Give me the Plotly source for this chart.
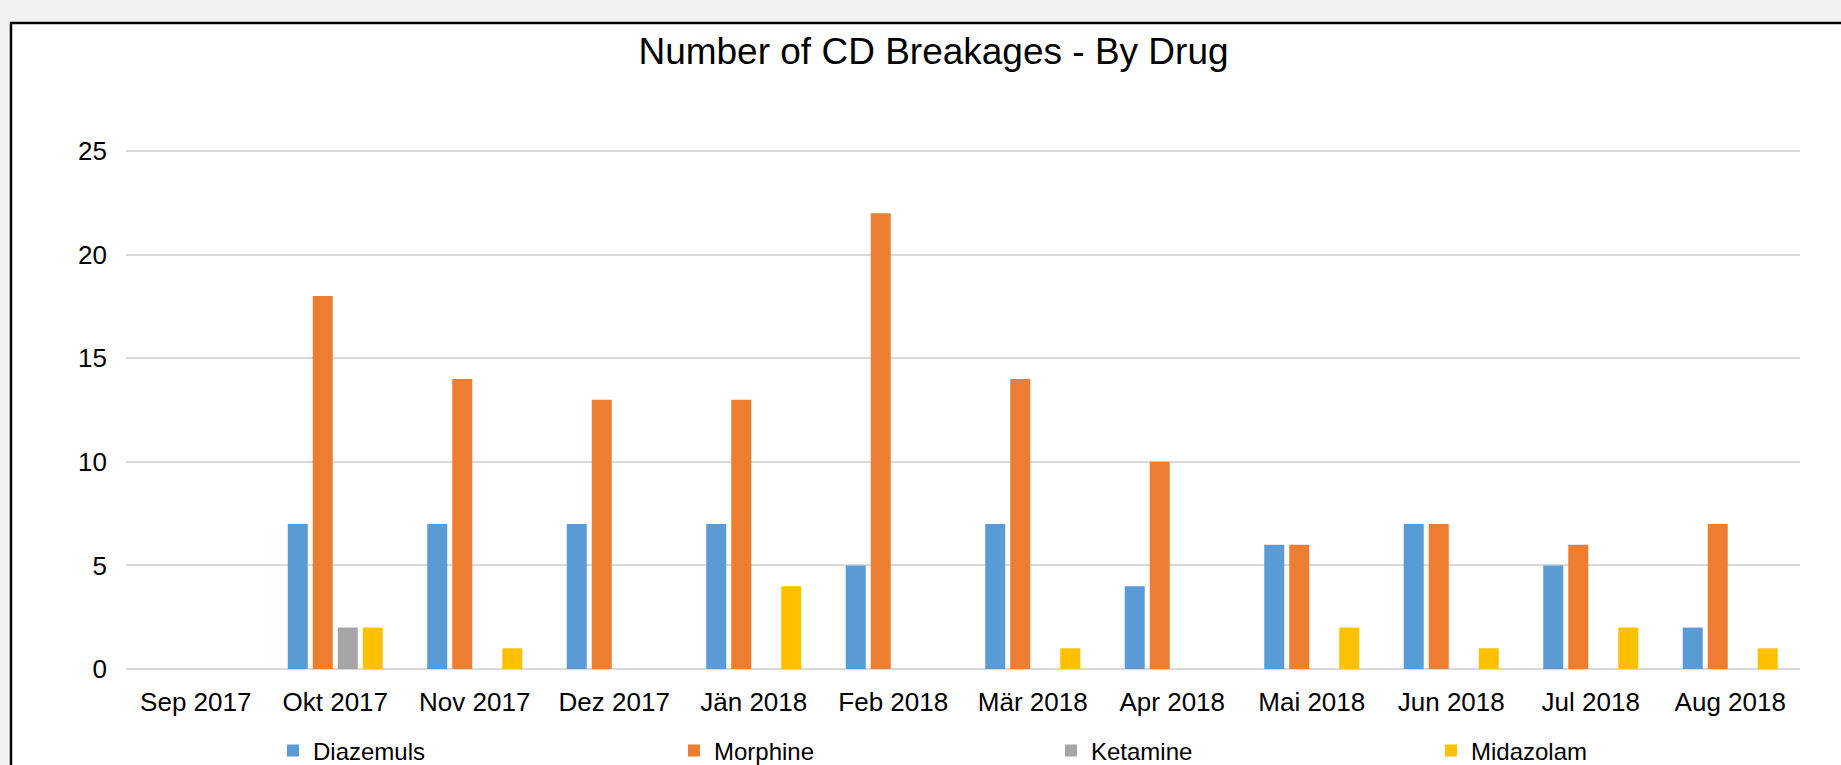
import plotly.graph_objects as go

months = ["Sep 2017", "Okt 2017", "Nov 2017", "Dez 2017", "Jän 2018", "Feb 2018",
          "Mär 2018", "Apr 2018", "Mai 2018", "Jun 2018", "Jul 2018", "Aug 2018"]
diazemuls = [0, 7, 7, 7, 7, 5, 7, 4, 6, 7, 5, 2]
morphine = [0, 18, 14, 13, 13, 22, 14, 10, 6, 7, 6, 7]
ketamine = [0, 2, 0, 0, 0, 0, 0, 0, 0, 0, 0, 0]
midazolam = [0, 2, 1, 0, 4, 0, 1, 0, 2, 1, 2, 1]

series = [
    ("Diazemuls", diazemuls, "#5B9BD5"),
    ("Morphine", morphine, "#ED7D31"),
    ("Ketamine", ketamine, "#A5A5A5"),
    ("Midazolam", midazolam, "#FFC000"),
]

W, H = 1841, 765
L, R, T, B = 126, 41, 150, 96
pw, ph = W - L - R, H - T - B

def px_x(p):
    return (p - L) / pw

def px_y(p):
    return (H - B - p) / ph

FONT = "Liberation Sans, Arial, sans-serif"

legend_px = [273, 674, 1051, 1431]
legend_names = ["legend", "legend2", "legend3", "legend4"]

fig = go.Figure()
for (name, vals, col), lg in zip(series, legend_names):
    fig.add_trace(go.Bar(x=months, y=vals, name=name, marker=dict(color=col, line=dict(width=0)),
                         legend=lg))

layout_legends = {}
for lg, lx in zip(legend_names, legend_px):
    layout_legends[lg] = dict(
        x=px_x(lx), xanchor="left", y=px_y(751), yanchor="middle",
        orientation="h", bgcolor="rgba(0,0,0,0)", borderwidth=0,
        font=dict(family=FONT, size=24, color="#000000"),
        itemwidth=30, tracegroupgap=0,
    )

fig.update_layout(
    width=W, height=H,
    margin=dict(l=L, r=R, t=T, b=B, pad=0, autoexpand=False),
    paper_bgcolor="#f2f2f2",
    plot_bgcolor="white",
    barmode="group",
    bargap=0.283,
    bargroupgap=0.2,
    showlegend=True,
    title=dict(text="Number of CD Breakages - By Drug", x=933.5 / W, xanchor="center",
               y=1 - 51 / H, yanchor="middle", xref="container", yref="container",
               font=dict(family=FONT, size=37, color="#000000")),
    font=dict(family=FONT, color="#000000"),
    xaxis=dict(showgrid=False, showline=False, zeroline=False, ticks="",
               tickfont=dict(family=FONT, size=26, color="#000000"),
               ticklabelstandoff=15, fixedrange=True),
    yaxis=dict(range=[0, 25.05], tickvals=[0, 5, 10, 15, 20, 25], showgrid=True,
               gridcolor="#D9D9D9", gridwidth=2, zeroline=True, zerolinecolor="#D9D9D9",
               zerolinewidth=2, showline=False, ticks="",
               tickfont=dict(family=FONT, size=26, color="#000000"),
               ticklabelstandoff=18, fixedrange=True),
    shapes=[dict(type="rect", xref="paper", yref="paper", layer="below",
                 x0=px_x(11), x1=px_x(W + 20), y0=px_y(23), y1=px_y(H + 20),
                 fillcolor="white", line=dict(color="black", width=2.5))],
    **layout_legends,
)

fig.write_html("out.html")
